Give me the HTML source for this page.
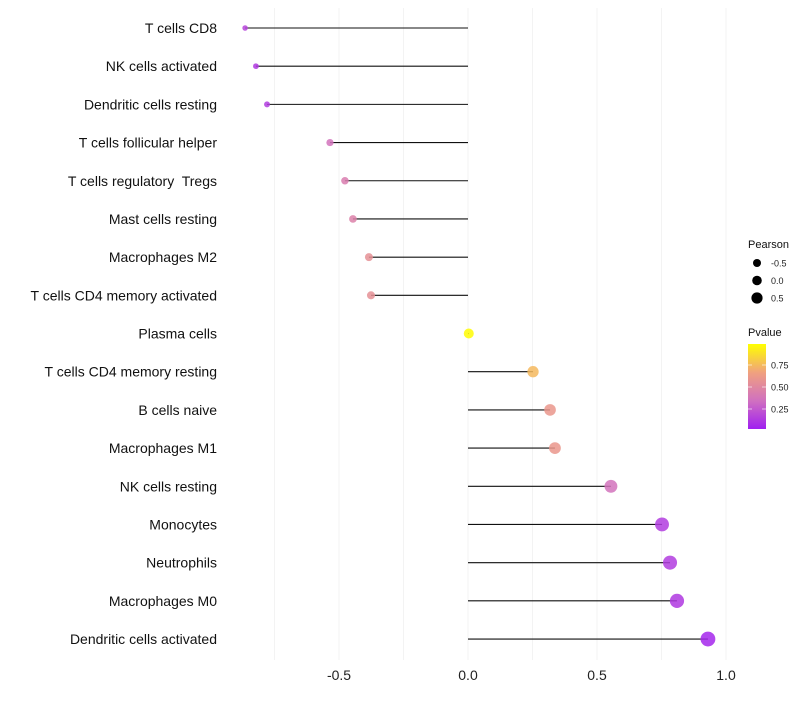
<!DOCTYPE html>
<html><head><meta charset="utf-8"><style>
body{margin:0;background:#fff;font-family:"Liberation Sans",sans-serif}
svg text{font-family:"Liberation Sans",sans-serif;white-space:pre}
</style></head><body>
<svg id="chart" width="800" height="700"></svg>
<script>
const categories=["T cells CD8","NK cells activated","Dendritic cells resting","T cells follicular helper","T cells regulatory  Tregs","Mast cells resting","Macrophages M2","T cells CD4 memory activated","Plasma cells","T cells CD4 memory resting","B cells naive","Macrophages M1","NK cells resting","Monocytes","Neutrophils","Macrophages M0","Dendritic cells activated"];
const pearson=[-0.864,-0.822,-0.779,-0.535,-0.477,-0.446,-0.384,-0.376,0.003,0.252,0.318,0.337,0.554,0.752,0.783,0.81,0.93];
const pvalues=[0.15,0.1,0.12,0.35,0.42,0.45,0.55,0.55,0.99,0.75,0.6,0.6,0.35,0.12,0.12,0.1,0.03];
const xTicks=[-0.5,0,0.5,1.0];
const xTickLabels=["-0.5","0.0","0.5","1.0"];
const gridVals=[-0.75,-0.5,-0.25,0,0.25,0.5,0.75,1.0];
const cbTicks=[0.25,0.5,0.75];
const sizeLegend=[-0.5,0,0.5];

const NS="http://www.w3.org/2000/svg";
const svg=document.getElementById('chart');
const x=v=>468+v*258;
const y=i=>28+i*38.19;
const r=v=>5+2.6*v;
const stops=[[0,[160,32,240]],[0.33,[208,112,192]],[0.66,[240,160,128]],[1,[255,255,0]]];
function col(p){for(let k=1;k<stops.length;k++){if(p<=stops[k][0]){const a=stops[k-1],b=stops[k];const t=(p-a[0])/(b[0]-a[0]);return 'rgb('+a[1].map((c,j)=>Math.round(c+(b[1][j]-c)*t)).join(',')+')';}}return 'rgb(255,255,0)';}
const cbY=p=>431-p*88;
function el(t,a,parent){const e=document.createElementNS(NS,t);for(const k in a)e.setAttribute(k,a[k]);(parent||svg).appendChild(e);return e;}

gridVals.forEach(g=>{
  const l=el('line',{x1:x(g),x2:x(g),y1:8,y2:660,stroke:'#f3f3f3','stroke-width':1});
  
  
});
xTicks.forEach((t,i)=>{
  const tx=el('text',{x:x(t),y:680,'text-anchor':'middle','font-size':14,fill:'#222'});
  tx.textContent=xTickLabels[i];
  
  
});
categories.forEach((c,i)=>{
  const lab=el('text',{x:217,y:y(i)+5,'text-anchor':'end','font-size':14,fill:'#111'});
  lab.textContent=c;
  
  
  const ln=el('line',{x1:x(0),x2:x(pearson[i]),y1:y(i),y2:y(i),stroke:'#111','stroke-width':1.1});
  
  
  const pt=el('circle',{cx:x(pearson[i]),cy:y(i),r:r(pearson[i]),fill:col(pvalues[i]),'fill-opacity':0.85});
  
  
});
const lt=el('text',{x:748,y:248,'font-size':11,fill:'#111'});lt.textContent='Pearson';


sizeLegend.forEach((s,i)=>{
  const cy=263+i*17.5;
  const c=el('circle',{cx:757,cy:cy,r:4.8+1.6*s,fill:'#000'});
  
  
  const t=el('text',{x:771,y:cy+3.5,'font-size':9,fill:'#222'});t.textContent=['-0.5','0.0','0.5'][i];
  
  
});
const ct=el('text',{x:748,y:336,'font-size':11,fill:'#111'});ct.textContent='Pvalue';


const defs=el('defs',{});
const lg=el('linearGradient',{id:'cb',x1:0,y1:1,x2:0,y2:0},defs);
stops.forEach(s=>el('stop',{offset:s[0],'stop-color':'rgb('+s[1].join(',')+')'},lg));
const bar=el('rect',{x:748,y:344,width:18,height:85,fill:'url(#cb)'});


cbTicks.forEach(p=>{
  el('line',{x1:748,x2:752,y1:cbY(p),y2:cbY(p),stroke:'#fff','stroke-opacity':0.6});
  el('line',{x1:762,x2:766,y1:cbY(p),y2:cbY(p),stroke:'#fff','stroke-opacity':0.6});
  const t=el('text',{x:771,y:cbY(p)+3.5,'font-size':9,fill:'#222'});t.textContent=p.toFixed(2);
  
  
});
</script>
</body></html>
